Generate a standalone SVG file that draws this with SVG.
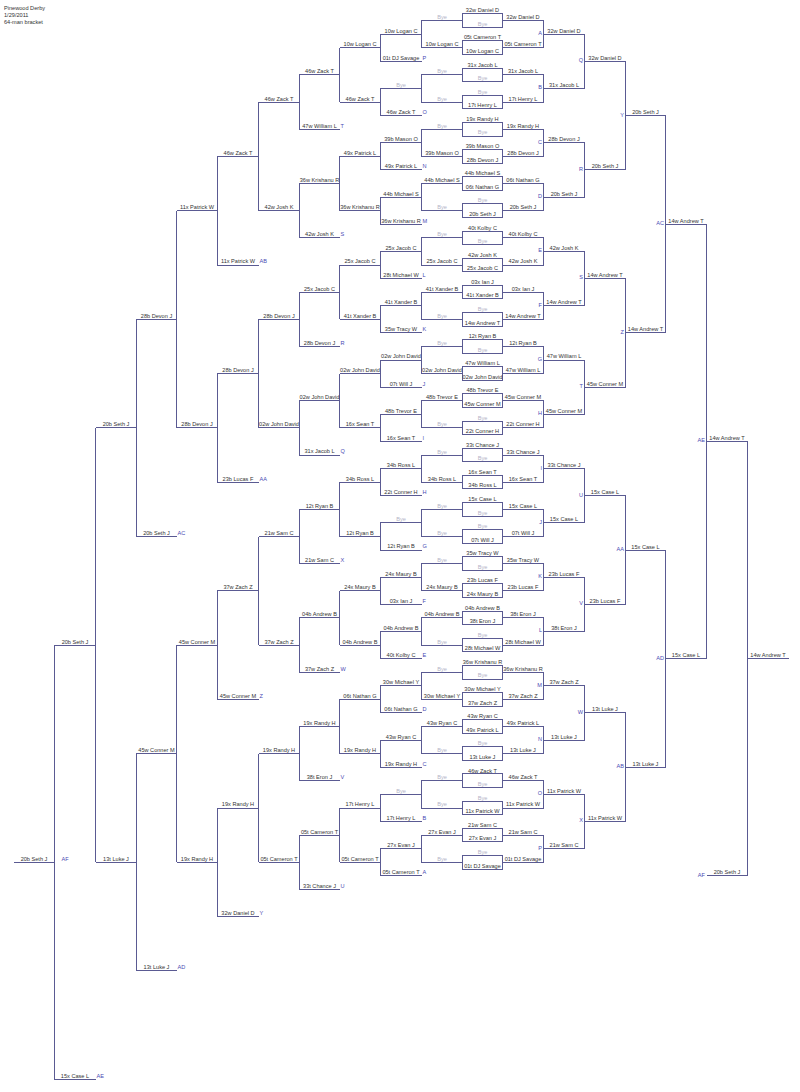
<svg xmlns="http://www.w3.org/2000/svg" width="800" height="1092" viewBox="0 0 800 1092">
<style>
.c{fill:none;stroke:#5a5a92;stroke-width:1;shape-rendering:crispEdges}
.bx{fill:none;stroke:#5a5a92;stroke-width:1;shape-rendering:crispEdges}
text{font-family:"Liberation Sans",Arial,sans-serif;font-size:5.6px;fill:#333}
.n{text-anchor:middle}
.b{fill:#b4b4c8}
.lt{fill:#4a4ab4;text-anchor:start}
.wl{fill:#4a4ab4;text-anchor:end}
</style>
<rect width="800" height="1092" fill="#fff"/>
<g id="header">
<text x="4" y="9.7">Pinewood Derby</text>
<text x="4" y="16.7">1/29/2011</text>
<text x="4" y="23.5">64-man bracket</text>
</g>
<g id="connectors" class="c">
<path d="M462.5 20.6H421.5V47.8H462.5M421.5 34.2H380.5V61.3H421.5M380.5 47.8H339.5M502.5 20.6H543.5V47.8H502.5M543.5 34.2H584.5"/>
<path d="M462.5 74.9H421.5V102.1H462.5M421.5 88.5H380.5V115.6H421.5M380.5 102.1H339.5M502.5 74.9H543.5V102.1H502.5M543.5 88.5H584.5"/>
<path d="M462.5 129.2H421.5V156.4H462.5M421.5 142.8H380.5V169.9H421.5M380.5 156.4H339.5M502.5 129.2H543.5V156.4H502.5M543.5 142.8H584.5"/>
<path d="M462.5 183.5H421.5V210.7H462.5M421.5 197.1H380.5V224.2H421.5M380.5 210.7H339.5M502.5 183.5H543.5V210.7H502.5M543.5 197.1H584.5"/>
<path d="M462.5 237.8H421.5V265H462.5M421.5 251.4H380.5V278.5H421.5M380.5 265H339.5M502.5 237.8H543.5V265H502.5M543.5 251.4H584.5"/>
<path d="M462.5 292.1H421.5V319.3H462.5M421.5 305.7H380.5V332.8H421.5M380.5 319.3H339.5M502.5 292.1H543.5V319.3H502.5M543.5 305.7H584.5"/>
<path d="M462.5 346.4H421.5V373.6H462.5M421.5 360H380.5V387.1H421.5M380.5 373.6H339.5M502.5 346.4H543.5V373.6H502.5M543.5 360H584.5"/>
<path d="M462.5 400.7H421.5V427.9H462.5M421.5 414.3H380.5V441.4H421.5M380.5 427.9H339.5M502.5 400.7H543.5V427.9H502.5M543.5 414.3H584.5"/>
<path d="M462.5 455H421.5V482.2H462.5M421.5 468.6H380.5V495.7H421.5M380.5 482.2H339.5M502.5 455H543.5V482.2H502.5M543.5 468.6H584.5"/>
<path d="M462.5 509.3H421.5V536.5H462.5M421.5 522.9H380.5V550H421.5M380.5 536.5H339.5M502.5 509.3H543.5V536.5H502.5M543.5 522.9H584.5"/>
<path d="M462.5 563.6H421.5V590.8H462.5M421.5 577.2H380.5V604.3H421.5M380.5 590.8H339.5M502.5 563.6H543.5V590.8H502.5M543.5 577.2H584.5"/>
<path d="M462.5 617.9H421.5V645.1H462.5M421.5 631.5H380.5V658.6H421.5M380.5 645.1H339.5M502.5 617.9H543.5V645.1H502.5M543.5 631.5H584.5"/>
<path d="M462.5 672.2H421.5V699.4H462.5M421.5 685.8H380.5V712.9H421.5M380.5 699.4H339.5M502.5 672.2H543.5V699.4H502.5M543.5 685.8H584.5"/>
<path d="M462.5 726.5H421.5V753.7H462.5M421.5 740.1H380.5V767.2H421.5M380.5 753.7H339.5M502.5 726.5H543.5V753.7H502.5M543.5 740.1H584.5"/>
<path d="M462.5 780.8H421.5V808H462.5M421.5 794.4H380.5V821.5H421.5M380.5 808H339.5M502.5 780.8H543.5V808H502.5M543.5 794.4H584.5"/>
<path d="M462.5 835.1H421.5V862.3H462.5M421.5 848.7H380.5V875.8H421.5M380.5 862.3H339.5M502.5 835.1H543.5V862.3H502.5M543.5 848.7H584.5"/>
<path d="M339.5 47.8V102.1M339.5 74.9H299.5V129.2H339.5M299.5 102.1H258.5M584.5 34.2V88.5M584.5 61.3H625.5"/>
<path d="M339.5 156.4V210.7M339.5 183.5H299.5V237.8H339.5M299.5 210.7H258.5M584.5 142.8V197.1M584.5 169.9H625.5"/>
<path d="M339.5 265V319.3M339.5 292.1H299.5V346.4H339.5M299.5 319.3H258.5M584.5 251.4V305.7M584.5 278.5H625.5"/>
<path d="M339.5 373.6V427.9M339.5 400.7H299.5V455H339.5M299.5 427.9H258.5M584.5 360V414.3M584.5 387.1H625.5"/>
<path d="M339.5 482.2V536.5M339.5 509.3H299.5V563.6H339.5M299.5 536.5H258.5M584.5 468.6V522.9M584.5 495.7H625.5"/>
<path d="M339.5 590.8V645.1M339.5 617.9H299.5V672.2H339.5M299.5 645.1H258.5M584.5 577.2V631.5M584.5 604.3H625.5"/>
<path d="M339.5 699.4V753.7M339.5 726.5H299.5V780.8H339.5M299.5 753.7H258.5M584.5 685.8V740.1M584.5 712.9H625.5"/>
<path d="M339.5 808V862.3M339.5 835.1H299.5V889.4H339.5M299.5 862.3H258.5M584.5 794.4V848.7M584.5 821.5H625.5"/>
<path d="M258.5 102.1V210.7M258.5 156.4H217.5V265H258.5M217.5 210.7H176.5M625.5 61.3V169.9M625.5 115.6H665.5"/>
<path d="M258.5 319.3V427.9M258.5 373.6H217.5V482.2H258.5M217.5 427.9H176.5M625.5 278.5V387.1M625.5 332.8H665.5"/>
<path d="M258.5 536.5V645.1M258.5 590.8H217.5V699.4H258.5M217.5 645.1H176.5M625.5 495.7V604.3M625.5 550H665.5"/>
<path d="M258.5 753.7V862.3M258.5 808H217.5V916.6H258.5M217.5 862.3H176.5M625.5 712.9V821.5M625.5 767.2H665.5"/>
<path d="M176.5 210.7V427.9M176.5 319.3H136.5V536.5H176.5M136.5 427.9H95.5M665.5 115.6V332.8M665.5 224.2H706.5"/>
<path d="M176.5 645.1V862.3M176.5 753.7H136.5V970.9H176.5M136.5 862.3H95.5M665.5 550V767.2M665.5 658.6H706.5"/>
<path d="M95.5 427.9V862.3M95.5 645.1H54.5V1079.5H95.5M54.5 862.3H13.5M706.5 224.2V658.6M706.5 441.4H747.5V875.8H706.5M747.5 658.6H788.5"/>
</g>
<g id="A" transform="translate(0 20.6)">
<g id="box1"><rect class="bx" x="462.5" y="-6.8" width="40" height="13.6"/><text class="n" x="482.5" y="-8.3">32w Daniel D</text><text class="n b" x="482.5" y="5.3">Bye</text><text class="n" x="523" y="-1.5">32w Daniel D</text><text class="n b" x="442" y="-1.5">Bye</text></g>
<g id="box2"><rect class="bx" x="462.5" y="20.35" width="40" height="13.6"/><text class="n" x="482.5" y="18.85">05t Cameron T</text><text class="n" x="482.5" y="32.45">10w Logan C</text><text class="n" x="523" y="25.65">05t Cameron T</text><text class="n" x="442" y="25.65">10w Logan C</text></g>
<text class="n" x="564" y="12.1">32w Daniel D</text><text class="wl" x="542" y="14.6">A</text>
<text class="n" x="401" y="12.1">10w Logan C</text>
<text class="n" x="401" y="39.2">01t DJ Savage</text><text class="lt" x="422.5" y="39.2">P</text>
<text class="n" x="360" y="25.65">10w Logan C</text>
</g>
<g id="B" transform="translate(0 74.9)">
<g id="box3"><rect class="bx" x="462.5" y="-6.8" width="40" height="13.6"/><text class="n" x="482.5" y="-8.3">31x Jacob L</text><text class="n b" x="482.5" y="5.3">Bye</text><text class="n" x="523" y="-1.5">31x Jacob L</text><text class="n b" x="442" y="-1.5">Bye</text></g>
<g id="box4"><rect class="bx" x="462.5" y="20.35" width="40" height="13.6"/><text class="n b" x="482.5" y="18.85">Bye</text><text class="n" x="482.5" y="32.45">17t Henry L</text><text class="n" x="523" y="25.65">17t Henry L</text><text class="n b" x="442" y="25.65">Bye</text></g>
<text class="n" x="564" y="12.1">31x Jacob L</text><text class="wl" x="542" y="14.6">B</text>
<text class="n b" x="401" y="12.1">Bye</text>
<text class="n" x="401" y="39.2">46w Zack T</text><text class="lt" x="422.5" y="39.2">O</text>
<text class="n" x="360" y="25.65">46w Zack T</text>
</g>
<g id="C" transform="translate(0 129.2)">
<g id="box5"><rect class="bx" x="462.5" y="-6.8" width="40" height="13.6"/><text class="n" x="482.5" y="-8.3">19x Randy H</text><text class="n b" x="482.5" y="5.3">Bye</text><text class="n" x="523" y="-1.5">19x Randy H</text><text class="n b" x="442" y="-1.5">Bye</text></g>
<g id="box6"><rect class="bx" x="462.5" y="20.35" width="40" height="13.6"/><text class="n" x="482.5" y="18.85">39b Mason O</text><text class="n" x="482.5" y="32.45">28b Devon J</text><text class="n" x="523" y="25.65">28b Devon J</text><text class="n" x="442" y="25.65">39b Mason O</text></g>
<text class="n" x="564" y="12.1">28b Devon J</text><text class="wl" x="542" y="14.6">C</text>
<text class="n" x="401" y="12.1">39b Mason O</text>
<text class="n" x="401" y="39.2">49x Patrick L</text><text class="lt" x="422.5" y="39.2">N</text>
<text class="n" x="360" y="25.65">49x Patrick L</text>
</g>
<g id="D" transform="translate(0 183.5)">
<g id="box7"><rect class="bx" x="462.5" y="-6.8" width="40" height="13.6"/><text class="n" x="482.5" y="-8.3">44b Michael S</text><text class="n" x="482.5" y="5.3">06t Nathan G</text><text class="n" x="523" y="-1.5">06t Nathan G</text><text class="n" x="442" y="-1.5">44b Michael S</text></g>
<g id="box8"><rect class="bx" x="462.5" y="20.35" width="40" height="13.6"/><text class="n b" x="482.5" y="18.85">Bye</text><text class="n" x="482.5" y="32.45">20b Seth J</text><text class="n" x="523" y="25.65">20b Seth J</text><text class="n b" x="442" y="25.65">Bye</text></g>
<text class="n" x="564" y="12.1">20b Seth J</text><text class="wl" x="542" y="14.6">D</text>
<text class="n" x="401" y="12.1">44b Michael S</text>
<text class="n" x="401" y="39.2">36w Krishanu R</text><text class="lt" x="422.5" y="39.2">M</text>
<text class="n" x="360" y="25.65">36w Krishanu R</text>
</g>
<g id="E" transform="translate(0 237.8)">
<g id="box9"><rect class="bx" x="462.5" y="-6.8" width="40" height="13.6"/><text class="n" x="482.5" y="-8.3">40t Kolby C</text><text class="n b" x="482.5" y="5.3">Bye</text><text class="n" x="523" y="-1.5">40t Kolby C</text><text class="n b" x="442" y="-1.5">Bye</text></g>
<g id="box10"><rect class="bx" x="462.5" y="20.35" width="40" height="13.6"/><text class="n" x="482.5" y="18.85">42w Josh K</text><text class="n" x="482.5" y="32.45">25x Jacob C</text><text class="n" x="523" y="25.65">42w Josh K</text><text class="n" x="442" y="25.65">25x Jacob C</text></g>
<text class="n" x="564" y="12.1">42w Josh K</text><text class="wl" x="542" y="14.6">E</text>
<text class="n" x="401" y="12.1">25x Jacob C</text>
<text class="n" x="401" y="39.2">28t Michael W</text><text class="lt" x="422.5" y="39.2">L</text>
<text class="n" x="360" y="25.65">25x Jacob C</text>
</g>
<g id="F" transform="translate(0 292.1)">
<g id="box11"><rect class="bx" x="462.5" y="-6.8" width="40" height="13.6"/><text class="n" x="482.5" y="-8.3">03x Ian J</text><text class="n" x="482.5" y="5.3">41t Xander B</text><text class="n" x="523" y="-1.5">03x Ian J</text><text class="n" x="442" y="-1.5">41t Xander B</text></g>
<g id="box12"><rect class="bx" x="462.5" y="20.35" width="40" height="13.6"/><text class="n b" x="482.5" y="18.85">Bye</text><text class="n" x="482.5" y="32.45">14w Andrew T</text><text class="n" x="523" y="25.65">14w Andrew T</text><text class="n b" x="442" y="25.65">Bye</text></g>
<text class="n" x="564" y="12.1">14w Andrew T</text><text class="wl" x="542" y="14.6">F</text>
<text class="n" x="401" y="12.1">41t Xander B</text>
<text class="n" x="401" y="39.2">35w Tracy W</text><text class="lt" x="422.5" y="39.2">K</text>
<text class="n" x="360" y="25.65">41t Xander B</text>
</g>
<g id="G" transform="translate(0 346.4)">
<g id="box13"><rect class="bx" x="462.5" y="-6.8" width="40" height="13.6"/><text class="n" x="482.5" y="-8.3">12t Ryan B</text><text class="n b" x="482.5" y="5.3">Bye</text><text class="n" x="523" y="-1.5">12t Ryan B</text><text class="n b" x="442" y="-1.5">Bye</text></g>
<g id="box14"><rect class="bx" x="462.5" y="20.35" width="40" height="13.6"/><text class="n" x="482.5" y="18.85">47w William L</text><text class="n" x="482.5" y="32.45">02w John David</text><text class="n" x="523" y="25.65">47w William L</text><text class="n" x="442" y="25.65">02w John David</text></g>
<text class="n" x="564" y="12.1">47w William L</text><text class="wl" x="542" y="14.6">G</text>
<text class="n" x="401" y="12.1">02w John David</text>
<text class="n" x="401" y="39.2">07t Will J</text><text class="lt" x="422.5" y="39.2">J</text>
<text class="n" x="360" y="25.65">02w John David</text>
</g>
<g id="H" transform="translate(0 400.7)">
<g id="box15"><rect class="bx" x="462.5" y="-6.8" width="40" height="13.6"/><text class="n" x="482.5" y="-8.3">48b Trevor E</text><text class="n" x="482.5" y="5.3">45w Conner M</text><text class="n" x="523" y="-1.5">45w Conner M</text><text class="n" x="442" y="-1.5">48b Trevor E</text></g>
<g id="box16"><rect class="bx" x="462.5" y="20.35" width="40" height="13.6"/><text class="n b" x="482.5" y="18.85">Bye</text><text class="n" x="482.5" y="32.45">22t Conner H</text><text class="n" x="523" y="25.65">22t Conner H</text><text class="n b" x="442" y="25.65">Bye</text></g>
<text class="n" x="564" y="12.1">45w Conner M</text><text class="wl" x="542" y="14.6">H</text>
<text class="n" x="401" y="12.1">48b Trevor E</text>
<text class="n" x="401" y="39.2">16x Sean T</text><text class="lt" x="422.5" y="39.2">I</text>
<text class="n" x="360" y="25.65">16x Sean T</text>
</g>
<g id="I" transform="translate(0 455)">
<g id="box17"><rect class="bx" x="462.5" y="-6.8" width="40" height="13.6"/><text class="n" x="482.5" y="-8.3">33t Chance J</text><text class="n b" x="482.5" y="5.3">Bye</text><text class="n" x="523" y="-1.5">33t Chance J</text><text class="n b" x="442" y="-1.5">Bye</text></g>
<g id="box18"><rect class="bx" x="462.5" y="20.35" width="40" height="13.6"/><text class="n" x="482.5" y="18.85">16x Sean T</text><text class="n" x="482.5" y="32.45">34b Ross L</text><text class="n" x="523" y="25.65">16x Sean T</text><text class="n" x="442" y="25.65">34b Ross L</text></g>
<text class="n" x="564" y="12.1">33t Chance J</text><text class="wl" x="542" y="14.6">I</text>
<text class="n" x="401" y="12.1">34b Ross L</text>
<text class="n" x="401" y="39.2">22t Conner H</text><text class="lt" x="422.5" y="39.2">H</text>
<text class="n" x="360" y="25.65">34b Ross L</text>
</g>
<g id="J" transform="translate(0 509.3)">
<g id="box19"><rect class="bx" x="462.5" y="-6.8" width="40" height="13.6"/><text class="n" x="482.5" y="-8.3">15x Case L</text><text class="n b" x="482.5" y="5.3">Bye</text><text class="n" x="523" y="-1.5">15x Case L</text><text class="n b" x="442" y="-1.5">Bye</text></g>
<g id="box20"><rect class="bx" x="462.5" y="20.35" width="40" height="13.6"/><text class="n b" x="482.5" y="18.85">Bye</text><text class="n" x="482.5" y="32.45">07t Will J</text><text class="n" x="523" y="25.65">07t Will J</text><text class="n b" x="442" y="25.65">Bye</text></g>
<text class="n" x="564" y="12.1">15x Case L</text><text class="wl" x="542" y="14.6">J</text>
<text class="n b" x="401" y="12.1">Bye</text>
<text class="n" x="401" y="39.2">12t Ryan B</text><text class="lt" x="422.5" y="39.2">G</text>
<text class="n" x="360" y="25.65">12t Ryan B</text>
</g>
<g id="K" transform="translate(0 563.6)">
<g id="box21"><rect class="bx" x="462.5" y="-6.8" width="40" height="13.6"/><text class="n" x="482.5" y="-8.3">35w Tracy W</text><text class="n b" x="482.5" y="5.3">Bye</text><text class="n" x="523" y="-1.5">35w Tracy W</text><text class="n b" x="442" y="-1.5">Bye</text></g>
<g id="box22"><rect class="bx" x="462.5" y="20.35" width="40" height="13.6"/><text class="n" x="482.5" y="18.85">23b Lucas F</text><text class="n" x="482.5" y="32.45">24x Maury B</text><text class="n" x="523" y="25.65">23b Lucas F</text><text class="n" x="442" y="25.65">24x Maury B</text></g>
<text class="n" x="564" y="12.1">23b Lucas F</text><text class="wl" x="542" y="14.6">K</text>
<text class="n" x="401" y="12.1">24x Maury B</text>
<text class="n" x="401" y="39.2">03x Ian J</text><text class="lt" x="422.5" y="39.2">F</text>
<text class="n" x="360" y="25.65">24x Maury B</text>
</g>
<g id="L" transform="translate(0 617.9)">
<g id="box23"><rect class="bx" x="462.5" y="-6.8" width="40" height="13.6"/><text class="n" x="482.5" y="-8.3">04b Andrew B</text><text class="n" x="482.5" y="5.3">38t Eron J</text><text class="n" x="523" y="-1.5">38t Eron J</text><text class="n" x="442" y="-1.5">04b Andrew B</text></g>
<g id="box24"><rect class="bx" x="462.5" y="20.35" width="40" height="13.6"/><text class="n b" x="482.5" y="18.85">Bye</text><text class="n" x="482.5" y="32.45">28t Michael W</text><text class="n" x="523" y="25.65">28t Michael W</text><text class="n b" x="442" y="25.65">Bye</text></g>
<text class="n" x="564" y="12.1">38t Eron J</text><text class="wl" x="542" y="14.6">L</text>
<text class="n" x="401" y="12.1">04b Andrew B</text>
<text class="n" x="401" y="39.2">40t Kolby C</text><text class="lt" x="422.5" y="39.2">E</text>
<text class="n" x="360" y="25.65">04b Andrew B</text>
</g>
<g id="M" transform="translate(0 672.2)">
<g id="box25"><rect class="bx" x="462.5" y="-6.8" width="40" height="13.6"/><text class="n" x="482.5" y="-8.3">36w Krishanu R</text><text class="n b" x="482.5" y="5.3">Bye</text><text class="n" x="523" y="-1.5">36w Krishanu R</text><text class="n b" x="442" y="-1.5">Bye</text></g>
<g id="box26"><rect class="bx" x="462.5" y="20.35" width="40" height="13.6"/><text class="n" x="482.5" y="18.85">30w Michael Y</text><text class="n" x="482.5" y="32.45">37w Zach Z</text><text class="n" x="523" y="25.65">37w Zach Z</text><text class="n" x="442" y="25.65">30w Michael Y</text></g>
<text class="n" x="564" y="12.1">37w Zach Z</text><text class="wl" x="542" y="14.6">M</text>
<text class="n" x="401" y="12.1">30w Michael Y</text>
<text class="n" x="401" y="39.2">06t Nathan G</text><text class="lt" x="422.5" y="39.2">D</text>
<text class="n" x="360" y="25.65">06t Nathan G</text>
</g>
<g id="N" transform="translate(0 726.5)">
<g id="box27"><rect class="bx" x="462.5" y="-6.8" width="40" height="13.6"/><text class="n" x="482.5" y="-8.3">43w Ryan C</text><text class="n" x="482.5" y="5.3">49x Patrick L</text><text class="n" x="523" y="-1.5">49x Patrick L</text><text class="n" x="442" y="-1.5">43w Ryan C</text></g>
<g id="box28"><rect class="bx" x="462.5" y="20.35" width="40" height="13.6"/><text class="n b" x="482.5" y="18.85">Bye</text><text class="n" x="482.5" y="32.45">13t Luke J</text><text class="n" x="523" y="25.65">13t Luke J</text><text class="n b" x="442" y="25.65">Bye</text></g>
<text class="n" x="564" y="12.1">13t Luke J</text><text class="wl" x="542" y="14.6">N</text>
<text class="n" x="401" y="12.1">43w Ryan C</text>
<text class="n" x="401" y="39.2">19x Randy H</text><text class="lt" x="422.5" y="39.2">C</text>
<text class="n" x="360" y="25.65">19x Randy H</text>
</g>
<g id="O" transform="translate(0 780.8)">
<g id="box29"><rect class="bx" x="462.5" y="-6.8" width="40" height="13.6"/><text class="n" x="482.5" y="-8.3">46w Zack T</text><text class="n b" x="482.5" y="5.3">Bye</text><text class="n" x="523" y="-1.5">46w Zack T</text><text class="n b" x="442" y="-1.5">Bye</text></g>
<g id="box30"><rect class="bx" x="462.5" y="20.35" width="40" height="13.6"/><text class="n b" x="482.5" y="18.85">Bye</text><text class="n" x="482.5" y="32.45">11x Patrick W</text><text class="n" x="523" y="25.65">11x Patrick W</text><text class="n b" x="442" y="25.65">Bye</text></g>
<text class="n" x="564" y="12.1">11x Patrick W</text><text class="wl" x="542" y="14.6">O</text>
<text class="n b" x="401" y="12.1">Bye</text>
<text class="n" x="401" y="39.2">17t Henry L</text><text class="lt" x="422.5" y="39.2">B</text>
<text class="n" x="360" y="25.65">17t Henry L</text>
</g>
<g id="P" transform="translate(0 835.1)">
<g id="box31"><rect class="bx" x="462.5" y="-6.8" width="40" height="13.6"/><text class="n" x="482.5" y="-8.3">21w Sam C</text><text class="n" x="482.5" y="5.3">27x Evan J</text><text class="n" x="523" y="-1.5">21w Sam C</text><text class="n" x="442" y="-1.5">27x Evan J</text></g>
<g id="box32"><rect class="bx" x="462.5" y="20.35" width="40" height="13.6"/><text class="n b" x="482.5" y="18.85">Bye</text><text class="n" x="482.5" y="32.45">01t DJ Savage</text><text class="n" x="523" y="25.65">01t DJ Savage</text><text class="n b" x="442" y="25.65">Bye</text></g>
<text class="n" x="564" y="12.1">21w Sam C</text><text class="wl" x="542" y="14.6">P</text>
<text class="n" x="401" y="12.1">27x Evan J</text>
<text class="n" x="401" y="39.2">05t Cameron T</text><text class="lt" x="422.5" y="39.2">A</text>
<text class="n" x="360" y="25.65">05t Cameron T</text>
</g>
<g id="QT" transform="translate(0 20.6)">
<text class="n" x="319.5" y="52.8">46w Zack T</text><text class="n" x="319.5" y="107.1">47w William L</text><text class="lt" x="340.5" y="107.1">T</text><text class="n" x="279" y="79.95">46w Zack T</text><text class="n" x="605" y="39.2">32w Daniel D</text><text class="wl" x="583" y="41.7">Q</text>
</g>
<g id="RS" transform="translate(0 129.2)">
<text class="n" x="319.5" y="52.8">36w Krishanu R</text><text class="n" x="319.5" y="107.1">42w Josh K</text><text class="lt" x="340.5" y="107.1">S</text><text class="n" x="279" y="79.95">42w Josh K</text><text class="n" x="605" y="39.2">20b Seth J</text><text class="wl" x="583" y="41.7">R</text>
</g>
<g id="SR" transform="translate(0 237.8)">
<text class="n" x="319.5" y="52.8">25x Jacob C</text><text class="n" x="319.5" y="107.1">28b Devon J</text><text class="lt" x="340.5" y="107.1">R</text><text class="n" x="279" y="79.95">28b Devon J</text><text class="n" x="605" y="39.2">14w Andrew T</text><text class="wl" x="583" y="41.7">S</text>
</g>
<g id="TQ" transform="translate(0 346.4)">
<text class="n" x="319.5" y="52.8">02w John David</text><text class="n" x="319.5" y="107.1">31x Jacob L</text><text class="lt" x="340.5" y="107.1">Q</text><text class="n" x="279" y="79.95">02w John David</text><text class="n" x="605" y="39.2">45w Conner M</text><text class="wl" x="583" y="41.7">T</text>
</g>
<g id="UX" transform="translate(0 455)">
<text class="n" x="319.5" y="52.8">12t Ryan B</text><text class="n" x="319.5" y="107.1">21w Sam C</text><text class="lt" x="340.5" y="107.1">X</text><text class="n" x="279" y="79.95">21w Sam C</text><text class="n" x="605" y="39.2">15x Case L</text><text class="wl" x="583" y="41.7">U</text>
</g>
<g id="VW" transform="translate(0 563.6)">
<text class="n" x="319.5" y="52.8">04b Andrew B</text><text class="n" x="319.5" y="107.1">37w Zach Z</text><text class="lt" x="340.5" y="107.1">W</text><text class="n" x="279" y="79.95">37w Zach Z</text><text class="n" x="605" y="39.2">23b Lucas F</text><text class="wl" x="583" y="41.7">V</text>
</g>
<g id="WV" transform="translate(0 672.2)">
<text class="n" x="319.5" y="52.8">19x Randy H</text><text class="n" x="319.5" y="107.1">38t Eron J</text><text class="lt" x="340.5" y="107.1">V</text><text class="n" x="279" y="79.95">19x Randy H</text><text class="n" x="605" y="39.2">13t Luke J</text><text class="wl" x="583" y="41.7">W</text>
</g>
<g id="XU" transform="translate(0 780.8)">
<text class="n" x="319.5" y="52.8">05t Cameron T</text><text class="n" x="319.5" y="107.1">33t Chance J</text><text class="lt" x="340.5" y="107.1">U</text><text class="n" x="279" y="79.95">05t Cameron T</text><text class="n" x="605" y="39.2">11x Patrick W</text><text class="wl" x="583" y="41.7">X</text>
</g>
<g id="Y" transform="translate(0 20.6)">
<text class="n" x="238" y="134.25">46w Zack T</text><text class="n" x="238" y="242.85">11x Patrick W</text><text class="lt" x="259.5" y="242.85">AB</text><text class="n" x="197" y="188.55">11x Patrick W</text><text class="n" x="645.5" y="93.5">20b Seth J</text><text class="wl" x="624" y="96">Y</text>
</g>
<g id="Z" transform="translate(0 237.8)">
<text class="n" x="238" y="134.25">28b Devon J</text><text class="n" x="238" y="242.85">23b Lucas F</text><text class="lt" x="259.5" y="242.85">AA</text><text class="n" x="197" y="188.55">28b Devon J</text><text class="n" x="645.5" y="93.5">14w Andrew T</text><text class="wl" x="624" y="96">Z</text>
</g>
<g id="AA" transform="translate(0 455)">
<text class="n" x="238" y="134.25">37w Zach Z</text><text class="n" x="238" y="242.85">45w Conner M</text><text class="lt" x="259.5" y="242.85">Z</text><text class="n" x="197" y="188.55">45w Conner M</text><text class="n" x="645.5" y="93.5">15x Case L</text><text class="wl" x="624" y="96">AA</text>
</g>
<g id="AB" transform="translate(0 672.2)">
<text class="n" x="238" y="134.25">19x Randy H</text><text class="n" x="238" y="242.85">32w Daniel D</text><text class="lt" x="259.5" y="242.85">Y</text><text class="n" x="197" y="188.55">19x Randy H</text><text class="n" x="645.5" y="93.5">13t Luke J</text><text class="wl" x="624" y="96">AB</text>
</g>
<g id="AC" transform="translate(0 20.6)">
<text class="n" x="156.5" y="297.15">28b Devon J</text><text class="n" x="156.5" y="514.35">20b Seth J</text><text class="lt" x="177.5" y="514.35">AC</text><text class="n" x="116" y="405.75">20b Seth J</text><text class="n" x="686" y="202.1">14w Andrew T</text><text class="wl" x="664" y="204.6">AC</text>
</g>
<g id="AD" transform="translate(0 455)">
<text class="n" x="156.5" y="297.15">45w Conner M</text><text class="n" x="156.5" y="514.35">13t Luke J</text><text class="lt" x="177.5" y="514.35">AD</text><text class="n" x="116" y="405.75">13t Luke J</text><text class="n" x="686" y="202.1">15x Case L</text><text class="wl" x="664" y="204.6">AD</text>
</g>
<g id="AE">
<text class="n" x="75" y="643.6">20b Seth J</text>
<text class="n" x="75" y="1078">15x Case L</text><text class="lt" x="96.5" y="1078">AE</text>
<text class="n" x="727" y="439.9">14w Andrew T</text><text class="wl" x="705" y="442.4">AE</text>
</g>
<g id="AF">
<text class="n" x="34" y="860.8">20b Seth J</text><text class="lt" x="61.5" y="860.8">AF</text>
<text class="n" x="727" y="874.3">20b Seth J</text><text class="wl" x="705" y="876.8">AF</text>
</g>
<g id="final">
<text class="n" x="768" y="657.1">14w Andrew T</text>
</g>
</svg>
